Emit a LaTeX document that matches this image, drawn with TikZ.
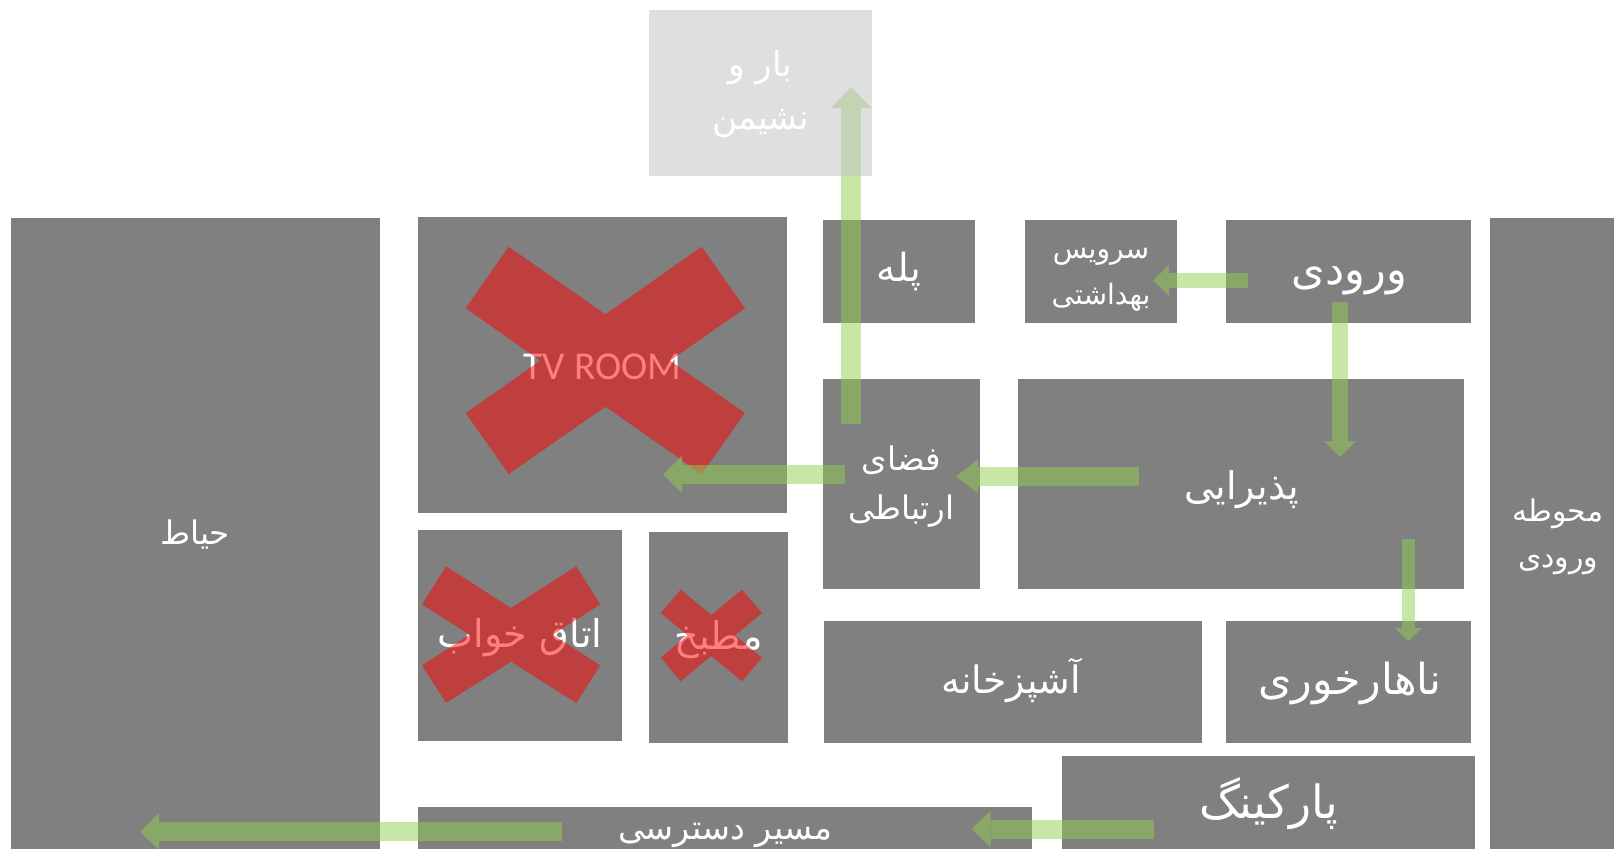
\documentclass[tikz,border=0pt]{standalone}
\usepackage{fontspec}
\usepackage{tikz}
\usetikzlibrary{arrows.meta}
\TeXXeTstate=1
\newfontfamily\arabicfont[Script=Arabic]{DejaVu Sans}
\newfontfamily\latinfont{Carlito}
\newcommand{\fa}[1]{{\arabicfont\beginR #1\endR}}
\definecolor{roomgray}{RGB}{128,128,128}
\definecolor{fadedgray}{RGB}{191,191,191}
\definecolor{flowgreen}{RGB}{146,208,80}
\tikzset{
  room/.style 2 args={fill=roomgray, inner sep=0, outer sep=0,
    minimum width=#1*.02cm, minimum height=#2*.02cm},
  roomname/.style 2 args={text=white, inner sep=0, align=center, font=\fontsize{#1}{#2}\selectfont},
  crossmark/.style={fill=red, fill opacity=.5},
  flow/.style n args={3}{draw=flowgreen, draw opacity=.5, fill opacity=.5,
    line width=#1*.02cm, -{Triangle[length=#2*.02cm, width=#3*.02cm, line width=0pt]}}
}
\begin{document}
\begin{tikzpicture}[x=.02cm, y=-.02cm]
             \useasboundingbox (0, 0) rectangle (1614, 849);

             \node[room={369}{634}] (yard) at (195.5, 535) {};
             \node[room={136}{634}] (court) at (1558, 535) {};
             \node[room={369}{296}] (tvroom) at (602.5, 365) {};
             \node[room={152}{103}] (stair) at (899, 271.5) {};
             \node[room={152}{103}] (toilet) at (1100.5, 271.5) {};
             \node[room={245}{103}] (entry) at (1348.5, 271.5) {};
             \node[room={157}{210}] (hall) at (901.5, 484) {};
             \node[room={446}{210}] (lobby) at (1241, 484) {};
             \node[room={204}{211}] (bedroom) at (520, 635.5) {};
             \node[room={139}{211}] (pantry) at (718.5, 637.5) {};
             \node[room={378}{122}] (kitchen) at (1013, 682) {};
             \node[room={245}{122}] (dining) at (1348.5, 682) {};
             \node[room={413}{96}] (parking) at (1268.5, 804) {};
             \node[room={614}{46}] (access) at (725, 830) {};

             \node[roomname={18.5}{26}] (yardname) at (195, 535) {\fa{حیاط}};
             \node[roomname={17}{26}] (courtname) at (1558, 537) {\fa{محوطه}\\\fa{ورودی}};
             \node[roomname={22.5}{26}] (tvname) at (602.5, 367) {\latinfont TV ROOM};
             \node[roomname={22}{26}] (stairname) at (899, 271.5) {\fa{پله}};
             \node[roomname={16}{26.3}] (toiletname) at (1101, 280) {\fa{سرویس}\\\fa{بهداشتی}};
             \node[roomname={24.5}{26}] (entryname) at (1349.5, 281) {\fa{ورودی}};
             \node[roomname={18.5}{27.5}] (hallname) at (901.5, 486.5) {\fa{فضای}\\\fa{ارتباطی}};
             \node[roomname={21.6}{26}] (lobbyname) at (1241.5, 490) {\fa{پذیرایی}};
             \node[roomname={21.8}{26}] (bedroomname) at (520, 637.5) {\fa{اتاق خواب}};
             \node[roomname={21.7}{26}] (pantryname) at (718.5, 639.5) {\fa{مطبخ}};
             \node[roomname={21.5}{26}] (kitchenname) at (1011, 680) {\fa{آشپزخانه}};
             \node[roomname={24.3}{26}] (diningname) at (1350, 683) {\fa{ناهارخوری}};
             \node[roomname={26}{26}] (parkingname) at (1268.5, 804) {\fa{پارکینگ}};
             \node[roomname={19}{26}] (accessname) at (725, 835) {\fa{مسیر دسترسی}};

             \fill[crossmark] (508.7, 246.7) -- (605.5, 314.3) -- (701.7, 246.7) -- (745, 308.3) -- (670, 360.7) -- (745, 413) -- (701.7, 474) -- (605.5, 406.7) -- (508.7, 474) -- (465.7, 413) -- (540.3, 360.7) -- (465.7, 308.3) -- cycle;
             \fill[crossmark] (446, 566.3) -- (511, 608) -- (576.3, 566.3) -- (600.3, 604.3) -- (552.7, 634.8) -- (600.3, 665.3) -- (576.3, 703) -- (511, 661.7) -- (446, 703) -- (422, 665.3) -- (469.7, 634.8) -- (422, 604.3) -- cycle;
             \fill[crossmark] (680.7, 589.7) -- (711.3, 615) -- (742, 589.7) -- (762, 613) -- (735, 635.3) -- (762, 657.7) -- (742, 681.3) -- (711.3, 656) -- (680.7, 681.3) -- (660.7, 657.7) -- (687.7, 635.3) -- (660.7, 613) -- cycle;

             \coordinate (stairtail) at (851, 424);
             \coordinate (stairtip) at (851, 87);
             \coordinate (entrytail) at (1248, 280.5);
             \coordinate (entrytip) at (1153, 280.5);
             \coordinate (lobbytail) at (1340, 302);
             \coordinate (lobbytip) at (1340, 457);
             \coordinate (halltail) at (1139, 476.5);
             \coordinate (halltip) at (956, 476.5);
             \coordinate (tvtail) at (845, 474.5);
             \coordinate (tvtip) at (663, 474.5);
             \coordinate (diningtail) at (1408.5, 539);
             \coordinate (diningtip) at (1408.5, 641);
             \coordinate (parkingtail) at (1154, 829);
             \coordinate (parkingtip) at (971.5, 829);
             \coordinate (accesstail) at (562, 831.5);
             \coordinate (accesstip) at (140, 831.5);

             \draw[flow={20}{21}{41}] (stairtail) -- (stairtip);
             \draw[flow={15}{16}{31}] (entrytail) -- (entrytip);
             \draw[flow={16}{16}{32}] (lobbytail) -- (lobbytip);
             \draw[flow={19}{22}{34}] (halltail) -- (halltip);
             \draw[flow={19}{19}{37}] (tvtail) -- (tvtip);
             \draw[flow={13}{13}{27}] (diningtail) -- (diningtip);
             \draw[flow={19}{19}{36}] (parkingtail) -- (parkingtip);
             \draw[flow={19}{19}{37}] (accesstail) -- (accesstip);

             \node[room={223}{166}, fill=fadedgray, fill opacity=.5] (bar) at (760.5, 93) {};
             \node[roomname={19.5}{30}] (barname) at (760.5, 94) {\fa{بار و}\\\fa{نشیمن}};
             \end{tikzpicture}
\end{document}
